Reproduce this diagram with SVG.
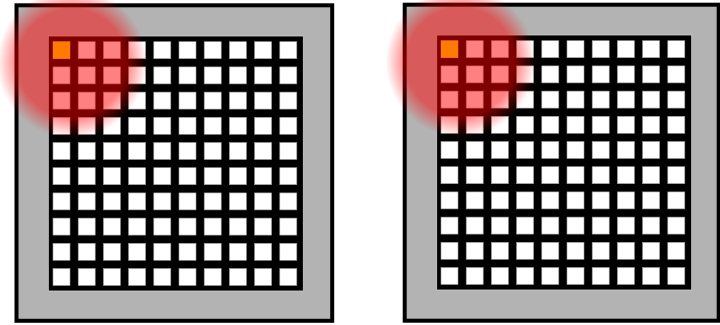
<svg xmlns="http://www.w3.org/2000/svg" xmlns:xlink="http://www.w3.org/1999/xlink" width="720" height="325" viewBox="0 0 720 325">
  <style>
    .frame { fill: #b3b3b3; stroke: #000; stroke-width: 4; }
    .grid { fill: #000; stroke: #d0d0d0; stroke-width: 0.8; }
    .cell { fill: #fff; stroke: #9a9a9a; stroke-width: 0.6; }
    .hot { fill: #ff7a00; stroke: none; }
  </style>
  <defs>
    <radialGradient id="glow" cx="0.5" cy="0.5" r="0.5">
      <stop offset="0" stop-color="#ff0000" stop-opacity="0.5"/>
      <stop offset="0.72" stop-color="#ff0000" stop-opacity="0.5"/>
      <stop offset="0.86" stop-color="#ff0000" stop-opacity="0.25"/>
      <stop offset="1" stop-color="#ff0000" stop-opacity="0"/>
    </radialGradient>
    <g id="cells">
      <g id="row">
        <rect class="cell" x="0" y="0" width="17" height="17"/>
        <rect class="cell" x="25.2" y="0" width="17" height="17"/>
        <rect class="cell" x="50.4" y="0" width="17" height="17"/>
        <rect class="cell" x="75.6" y="0" width="17" height="17"/>
        <rect class="cell" x="100.8" y="0" width="17" height="17"/>
        <rect class="cell" x="126" y="0" width="17" height="17"/>
        <rect class="cell" x="151.2" y="0" width="17" height="17"/>
        <rect class="cell" x="176.4" y="0" width="17" height="17"/>
        <rect class="cell" x="201.6" y="0" width="17" height="17"/>
        <rect class="cell" x="226.8" y="0" width="17" height="17"/>
      </g>
      <use xlink:href="#row" href="#row" y="25.2"/>
      <use xlink:href="#row" href="#row" y="50.4"/>
      <use xlink:href="#row" href="#row" y="75.6"/>
      <use xlink:href="#row" href="#row" y="100.8"/>
      <use xlink:href="#row" href="#row" y="126"/>
      <use xlink:href="#row" href="#row" y="151.2"/>
      <use xlink:href="#row" href="#row" y="176.4"/>
      <use xlink:href="#row" href="#row" y="201.6"/>
      <use xlink:href="#row" href="#row" y="226.8"/>
    </g>
  </defs>

  <g id="panel-left">
    <rect class="frame" x="16.5" y="5.3" width="315.7" height="315.5"/>
    <rect class="grid" x="48.3" y="36" width="255" height="255"/>
    <use xlink:href="#cells" href="#cells" x="53" y="41.7"/>
    <circle cx="72" cy="63" r="75" fill="url(#glow)"/>
    <rect class="hot" x="53" y="41.7" width="17" height="17"/>
  </g>

  <g id="panel-right">
    <rect class="frame" x="404.7" y="4.7" width="314" height="316"/>
    <rect class="grid" x="436.7" y="35" width="255" height="255"/>
    <use xlink:href="#cells" href="#cells" x="441" y="40.7"/>
    <circle cx="460.5" cy="62" r="75" fill="url(#glow)"/>
    <rect class="hot" x="441" y="40.7" width="17" height="17"/>
  </g>
</svg>
